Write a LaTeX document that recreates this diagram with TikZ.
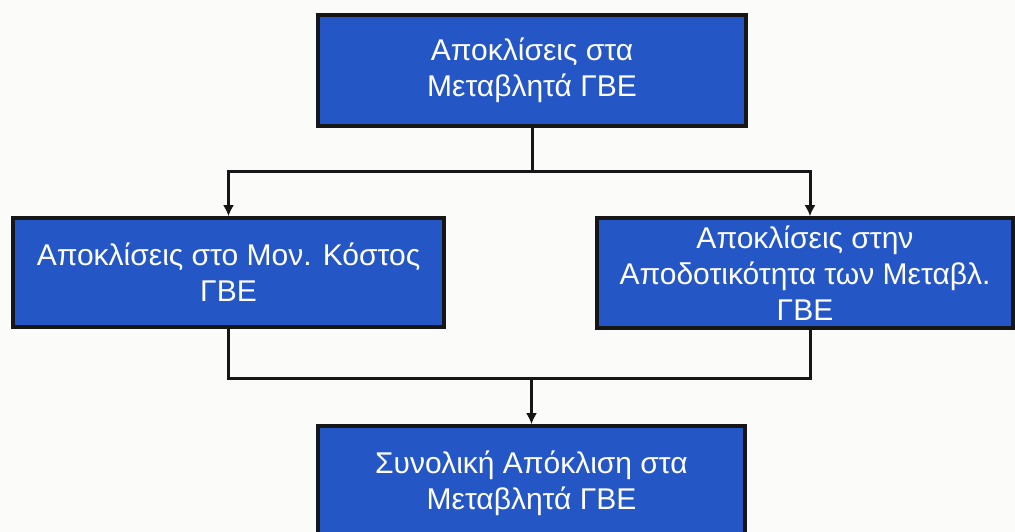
\documentclass[tikz,border=0pt]{standalone}
\usepackage{fontspec}
\setmainfont{Liberation Sans}
\usetikzlibrary{arrows.meta,calc}
\definecolor{boxblue}{RGB}{36,86,198}
\definecolor{edge}{RGB}{22,22,22}
\definecolor{bg}{RGB}{251,251,250}
\begin{document}
\begin{tikzpicture}[x=1pt,y=-1pt,
  bbox/.style={draw=edge,line width=3.6pt,fill=boxblue,text=white,align=center,
    inner sep=0pt,font=\fontsize{30}{36}\selectfont},
  conn/.style={draw=edge,line width=3pt},
  arr/.style={conn,-{Latex[length=11pt,width=11pt]}}]
\useasboundingbox (0,0) rectangle (1015,532);
\clip (0,0) rectangle (1015,532);
\fill[bg] (0,0) rectangle (1015,532);
\node[bbox,minimum width=428pt,minimum height=111pt] (top) at (532,70.5) {Αποκλίσεις στα\\Μεταβλητά ΓΒΕ};
\node[bbox,minimum width=431pt,minimum height=109pt] (left) at (228.5,272.5) {Αποκλίσεις στο Μον. Κόστος\\ΓΒΕ};
\node[bbox,minimum width=416pt,minimum height=110pt] (right) at (805,273) {Αποκλίσεις στην\\Αποδοτικότητα των Μεταβλ.\\ΓΒΕ};
\node[bbox,minimum width=427pt,minimum height=114pt] (bottom) at (531.5,483) {Συνολική Απόκλιση στα\\Μεταβλητά ΓΒΕ};
\coordinate (j1) at (532,172);
\coordinate (j2) at (531.5,378);
\draw[conn] (top.south) -- (j1);
\draw[arr] (j1) -| (left.north);
\draw[arr] (j1) -| ($(right.north)+(5,0)$);
\draw[conn] (left.south) |- (j2) -| ($(right.south)+(5,0)$);
\draw[arr] (j2) -- (bottom.north);
\end{tikzpicture}
\end{document}
